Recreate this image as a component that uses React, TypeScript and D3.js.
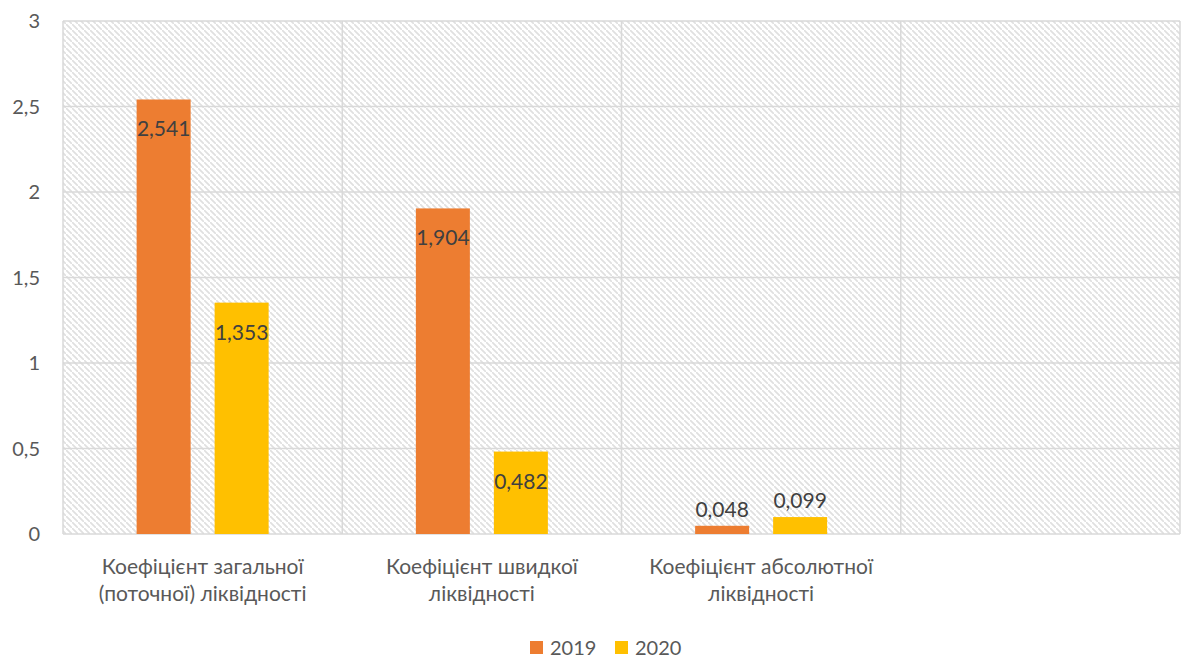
import React from "react";
import * as d3 from "d3";

const categories: string[][] = [
  ["Коефіцієнт загальної", "(поточної) ліквідності"],
  ["Коефіцієнт швидкої", "ліквідності"],
  ["Коефіцієнт абсолютної", "ліквідності"],
  [""],
];
const seriesNames = ["2019", "2020"];
const values2019: (number | null)[] = [2.541, 1.904, 0.048, null];
const values2020: (number | null)[] = [1.353, 0.482, 0.099, null];
const yTicks = [0, 0.5, 1, 1.5, 2, 2.5, 3];
const colors = ["#ED7D31", "#FFC000"];

const W = 1187;
const H = 659;
const FONT = "Lato, 'Open Sans', sans-serif";
const FS = 20;
const FS_LABEL = 21;

const fmt = (v: number) => String(v).replace(".", ",");

export default function App() {
  const left = 63, right = 1180, top = 21, bottom = 534;
  const x = d3.scaleBand<number>().domain(d3.range(categories.length)).range([left, right]);
  const y = d3.scaleLinear().domain([0, 3]).range([bottom, top]);
  const barW = 54;
  const gap = 24;
  const series = [values2019, values2020];

  return (
    <svg width={W} height={H} style={{ position: "absolute", left: 0, top: 0 }}>
      <defs>
        <pattern id="hatch" patternUnits="userSpaceOnUse" width={6} height={6}>
          <path d="M-1,-1 L1,1 M0,0 L6,6 M5,5 L7,7" stroke="#e0e0e0" strokeWidth={1.7} />
        </pattern>
      </defs>
      <rect x={left} y={top} width={right - left} height={bottom - top} fill="url(#hatch)" />
      {yTicks.map((t) => (
        <line key={t} x1={left} x2={right} y1={y(t)} y2={y(t)} stroke="#d9d9d9" strokeWidth={1.5} />
      ))}
      {d3.range(categories.length + 1).map((i) => {
        const xx = i < categories.length ? x(i)! : right;
        return <line key={i} x1={xx} x2={xx} y1={top} y2={bottom} stroke="#d9d9d9" strokeWidth={1.5} />;
      })}
      {yTicks.map((t) => (
        <text key={t} x={40} y={y(t)} dy="0.35em" textAnchor="end" fontFamily={FONT} fontSize={FS} fill="#595959">
          {fmt(t)}
        </text>
      ))}
      {series.map((vals, s) =>
        vals.map((v, i) => {
          if (v == null) return null;
          const cx = x(i)! + x.bandwidth() / 2 + (s === 0 ? -1 : 1) * (barW + gap) / 2;
          const y0 = y(v);
          const inside = bottom - y0 > 40;
          return (
            <g key={`${s}-${i}`}>
              <rect x={cx - barW / 2} y={y0} width={barW} height={bottom - y0} fill={colors[s]} />
              <text
                x={cx}
                y={inside ? y0 + 37 : y0 - 9}
                textAnchor="middle"
                fontFamily={FONT}
                fontSize={FS_LABEL}
                fill="#404040"
              >
                {fmt(v)}
              </text>
            </g>
          );
        })
      )}
      {categories.map((lines, i) => (
        <text key={i} textAnchor="middle" fontFamily={FONT} fontSize={FS_LABEL} fill="#595959">
          {lines.map((l, j) => (
            <tspan key={j} x={x(i)! + x.bandwidth() / 2} y={574 + j * 27}>
              {l}
            </tspan>
          ))}
        </text>
      ))}
      <g fontFamily={FONT} fontSize={FS} fill="#595959">
        <rect x={530} y={641} width={13} height={13} fill={colors[0]} />
        <text x={550} y={655}>{seriesNames[0]}</text>
        <rect x={615} y={641} width={13} height={13} fill={colors[1]} />
        <text x={635} y={655}>{seriesNames[1]}</text>
      </g>
    </svg>
  );
}
